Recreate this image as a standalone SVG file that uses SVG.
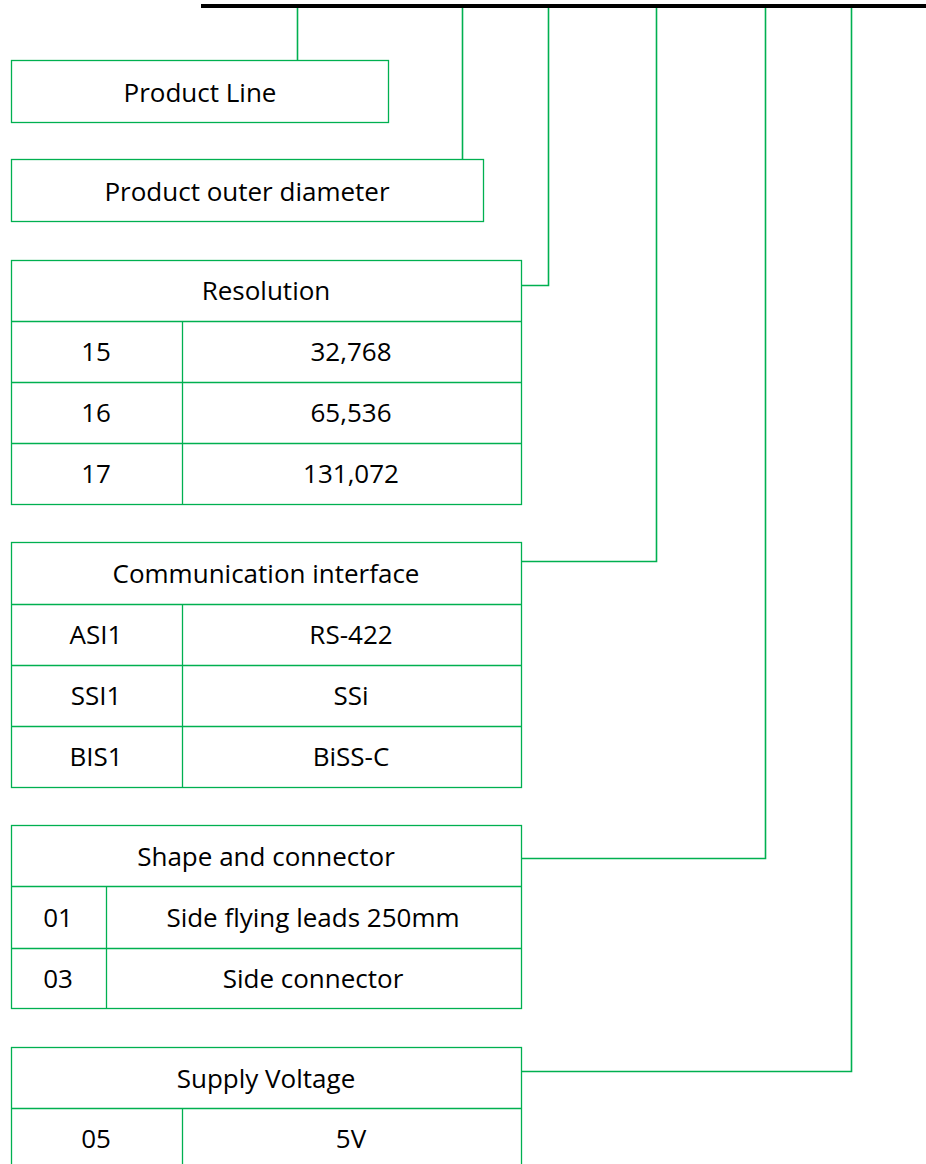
<svg xmlns="http://www.w3.org/2000/svg" width="926" height="1164" viewBox="0 0 926 1164">
<style>
.box{fill:#fff;stroke:#00B050;stroke-width:1.3}
.ln{fill:none;stroke:#00B050;stroke-width:1.3}
.conn{fill:none;stroke:#00B050;stroke-width:1.6}
text{font-family:"Open Sans","Noto Sans",sans-serif;font-size:26px;fill:#000;text-anchor:middle;dominant-baseline:central}
</style>
<rect width="926" height="1164" fill="#fff"/>
<line x1="201" y1="6" x2="926" y2="6" stroke="#000" stroke-width="4"/>
<g id="connectors">
<polyline class="conn" points="297.5,8 297.5,60"/>
<polyline class="conn" points="462.5,8 462.5,159"/>
<polyline class="conn" points="548.5,8 548.5,285.5 521,285.5"/>
<polyline class="conn" points="656.5,8 656.5,561.5 521,561.5"/>
<polyline class="conn" points="765.5,8 765.5,858.5 521,858.5"/>
<polyline class="conn" points="851.5,8 851.5,1071.5 521,1071.5"/>
</g>
<g id="product-line">
<rect class="box" x="11.5" y="60.5" width="377" height="62"/>
<text x="200" y="92">Product Line</text>
</g>
<g id="outer-diameter">
<rect class="box" x="11.5" y="159.5" width="472" height="62"/>
<text x="247" y="191">Product outer diameter</text>
</g>
<g id="resolution">
<rect class="box" x="11.5" y="260.5" width="510" height="244"/>
<path class="ln" d="M11.5 321.5H521.5M11.5 382.5H521.5M11.5 443.5H521.5M182.5 321.5V504.5"/>
<text x="266" y="290">Resolution</text>
<text x="96" y="351">15</text><text x="351" y="351">32,768</text>
<text x="96" y="412">16</text><text x="351" y="412">65,536</text>
<text x="96" y="473">17</text><text x="351" y="473">131,072</text>
</g>
<g id="communication">
<rect class="box" x="11.5" y="542.5" width="510" height="245"/>
<path class="ln" d="M11.5 604.5H521.5M11.5 665.5H521.5M11.5 726.5H521.5M182.5 604.5V787.5"/>
<text x="266" y="573">Communication interface</text>
<text x="96" y="634">ASI1</text><text x="351" y="634">RS-422</text>
<text x="96" y="695">SSI1</text><text x="351" y="695">SSi</text>
<text x="96" y="756">BIS1</text><text x="351" y="756">BiSS-C</text>
</g>
<g id="shape">
<rect class="box" x="11.5" y="825.5" width="510" height="183"/>
<path class="ln" d="M11.5 886.5H521.5M11.5 948.5H521.5M106.5 886.5V1008.5"/>
<text x="266" y="856">Shape and connector</text>
<text x="58" y="917">01</text><text x="313" y="917">Side flying leads 250mm</text>
<text x="58" y="978">03</text><text x="313" y="978">Side connector</text>
</g>
<g id="supply">
<rect class="box" x="11.5" y="1047.5" width="510" height="130"/>
<path class="ln" d="M11.5 1108.5H521.5M182.5 1108.5V1177"/>
<text x="266" y="1078">Supply Voltage</text>
<text x="96" y="1138">05</text><text x="351" y="1138">5V</text>
</g>
</svg>
